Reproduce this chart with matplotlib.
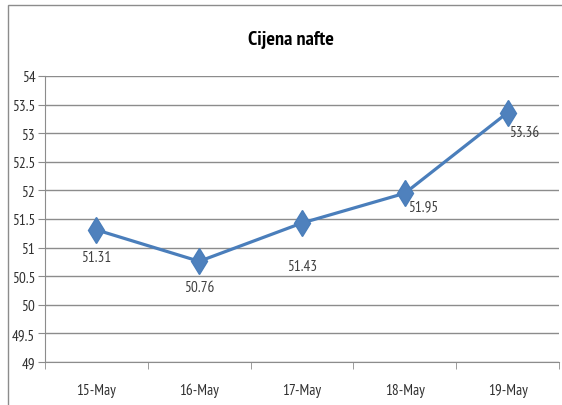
import matplotlib.pyplot as plt
from matplotlib.patches import Rectangle

plt.rcParams['font.family'] = ['PT Sans Narrow', 'Carlito', 'DejaVu Sans']

# podaci
dates = ['15-May', '16-May', '17-May', '18-May', '19-May']
prices = [51.31, 50.76, 51.43, 51.95, 53.36]
yticks = [49, 49.5, 50, 50.5, 51, 51.5, 52, 52.5, 53, 53.5, 54]

# pomaci oznaka (px): desno, dolje
label_dx = [0, 0, 0, 18, 17]
label_dy = [27, 26, 43, 13, 19]

fig = plt.figure(figsize=(5.62, 4.06), dpi=100)
ax = fig.add_axes([45 / 562, 1 - 363 / 406, 514 / 562, 286 / 406])

# okvir grafikona
fig.patches.append(Rectangle((8 / 562, -0.1), 1.2, 1 - 6 / 406 + 0.1,
                             transform=fig.transFigure, fill=False,
                             edgecolor='#8c8c8c', linewidth=1.0))

x = list(range(len(dates)))
ax.plot(x, prices, color='#4a7ebb', linewidth=2.3, marker='d',
        markersize=13, markerfacecolor='#4f81bd', markeredgecolor='#4a7ebb')

for xi, p, dx, dy in zip(x, prices, label_dx, label_dy):
    ax.annotate(f'{p:.2f}', (xi, p), xytext=(dx * 0.72, -dy * 0.72),
                textcoords='offset points', ha='center', va='center',
                fontsize=11, color='#404040')

ax.set_xlim(-0.5, len(dates) - 0.5)
ax.set_ylim(49, 54)
ax.set_yticks(yticks)
ax.set_yticklabels([f'{t:g}' for t in yticks])
ax.set_xticks(x)
ax.set_xticklabels(dates)
ax.set_xticks([i - 0.5 for i in range(len(dates) + 1)], minor=True)
ax.tick_params(axis='x', which='major', length=0, pad=15, labelsize=11,
               labelcolor='#303030')
ax.tick_params(axis='x', which='minor', length=5, color='#8c8c8c', direction='out')
ax.tick_params(axis='y', length=5, color='#8c8c8c', labelsize=11,
               labelcolor='#303030', pad=2)

ax.grid(axis='y', color='#8c8c8c', linewidth=1.0)
ax.set_axisbelow(True)
for s in ['top', 'right']:
    ax.spines[s].set_visible(False)
for s in ['left', 'bottom']:
    ax.spines[s].set_color('#8c8c8c')

fig.text(291 / 562, 1 - 40 / 406, 'Cijena nafte', ha='center', va='center',
         fontsize=14.5, fontweight='bold', color='black')

fig.savefig('out.png', dpi=100)
